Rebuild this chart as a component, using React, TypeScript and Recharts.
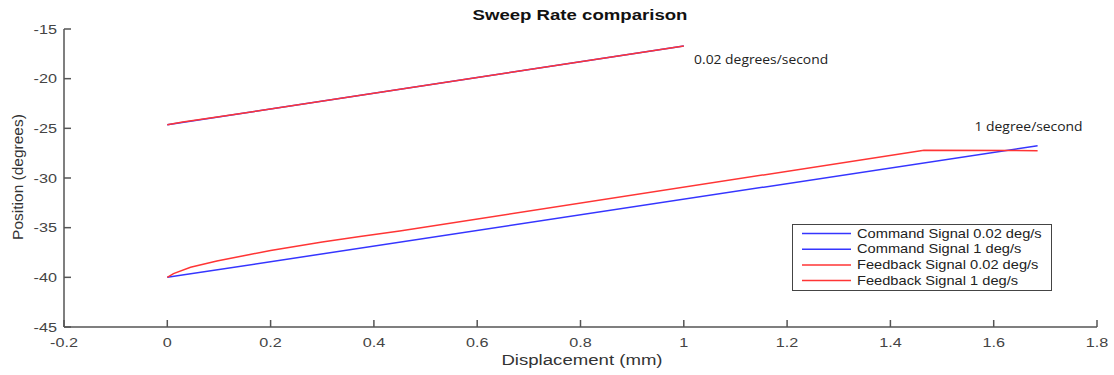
import React from 'react';
import { LineChart, Line, XAxis, YAxis, Legend, ReferenceDot } from 'recharts';

// Series data (displacement mm, position degrees)
const commandSlow = [
  { x: 0, y: -24.65 },
  { x: 1, y: -16.7 },
];
const commandFast = [
  { x: 0, y: -40 },
  { x: 1.685, y: -26.75 },
];
const feedbackSlow = [
  { x: 0, y: -24.65 },
  { x: 0.03, y: -24.36 },
  { x: 0.1, y: -23.84 },
  { x: 1, y: -16.7 },
];
const feedbackFast = [
  { x: 0, y: -40 },
  { x: 0.012, y: -39.62 },
  { x: 0.045, y: -38.98 },
  { x: 0.096, y: -38.35 },
  { x: 0.16, y: -37.7 },
  { x: 0.2, y: -37.3 },
  { x: 0.3, y: -36.45 },
  { x: 0.373, y: -35.9 },
  { x: 0.45, y: -35.34 },
  { x: 1.465, y: -27.2 },
  { x: 1.685, y: -27.25 },
];

const xTicks = [-0.2, 0, 0.2, 0.4, 0.6, 0.8, 1, 1.2, 1.4, 1.6, 1.8];
const yTicks = [-45, -40, -35, -30, -25, -20, -15];

const seriesNames = [
  'Command Signal 0.02 deg/s',
  'Command Signal 1 deg/s',
  'Feedback Signal 0.02 deg/s',
  'Feedback Signal 1 deg/s',
];
const annotations = [
  { x: 1.02, y: -18.0, text: '0.02 degrees/second', len: 134 },
  { x: 1.563, y: -24.77, text: '1 degree/second', len: 108 },
];

const TITLE = 'Sweep Rate comparison';
const XLABEL = 'Displacement (mm)';
const YLABEL = 'Position (degrees)';

const FONT = "'Liberation Sans', Arial, sans-serif";
const AXIS = '#555';
const BLUE = '#3535ff';
const RED = '#ff3535';
const SX = 1.2;

const fmt = (v: number) => String(parseFloat(Number(v).toFixed(1)));

const XTick = (props: any) => {
  const { x, y, payload } = props;
  return (
    <g>
      <line x1={x} x2={x} y1={y} y2={y - 7} stroke={AXIS} strokeWidth={1.5} />
      <text
        transform={`translate(${x},${y + 15}) scale(${SX},1)`}
        textAnchor="middle"
        dominantBaseline="central"
        fontFamily={FONT}
        fontSize={13.5}
        fill="#444"
      >
        {fmt(payload.value)}
      </text>
    </g>
  );
};

const YTick = (props: any) => {
  const { x, y, payload } = props;
  return (
    <g>
      <line x1={x} x2={x + 7} y1={y} y2={y} stroke={AXIS} strokeWidth={1.5} />
      <text
        transform={`translate(${x - 7},${y}) scale(${SX},1)`}
        textAnchor="end"
        dominantBaseline="central"
        fontFamily={FONT}
        fontSize={13.5}
        fill="#444"
      >
        {fmt(payload.value)}
      </text>
    </g>
  );
};

const LegendBox = (props: any) => {
  const payload = props.payload || [];
  return (
    <svg width={260} height={67} style={{ display: 'block' }}>
      <rect x={0.5} y={0.5} width={259} height={66} fill="#fff" stroke="#444" strokeWidth={1} />
      {payload.map((p: any, i: number) => {
        const cy = 9.5 + i * 15.7;
        return (
          <g key={i}>
            <line x1={10} x2={59} y1={cy} y2={cy} stroke={p.color} strokeWidth={1.5} />
            <text
              transform={`translate(65,${cy}) scale(${SX},1)`}
              dominantBaseline="central"
              fontFamily={FONT}
              fontSize={12.2}
              fill="#222"
            >
              {p.value}
            </text>
          </g>
        );
      })}
    </svg>
  );
};

const makeAnno = (text: string, len: number) => (props: any) => {
  const vb = props.viewBox || {};
  const x = (vb.x ?? 0) + (vb.width ?? 0) / 2;
  const y = (vb.y ?? 0) + (vb.height ?? 0) / 2;
  return (
    <text
      x={x}
      y={y}
      dominantBaseline="central"
      fontFamily="'Open Sans', 'Noto Sans', sans-serif"
      fontSize={13}
      fill="#222"
      textLength={len}
      lengthAdjust="spacingAndGlyphs"
    >
      {text}
    </text>
  );
};

export default function App() {
  return (
    <div style={{ position: 'absolute', left: 0, top: 0, width: 1114, height: 375, background: '#fff' }}>
      <LineChart
        width={1114}
        height={375}
        margin={{ top: 29, right: 17, bottom: 0, left: 0 }}
      >
        <XAxis
          type="number"
          dataKey="x"
          domain={[-0.2, 1.8]}
          ticks={xTicks}
          interval={0}
          allowDataOverflow
          height={48}
          tickSize={0}
          tickMargin={0}
          tickLine={false}
          axisLine={{ stroke: AXIS, strokeWidth: 1.5 }}
          tick={<XTick />}
        />
        <YAxis
          type="number"
          dataKey="y"
          domain={[-45, -15]}
          ticks={yTicks}
          interval={0}
          allowDataOverflow
          width={64}
          tickSize={0}
          tickMargin={0}
          tickLine={false}
          axisLine={{ stroke: AXIS, strokeWidth: 1.5 }}
          tick={<YTick />}
        />
        <Line data={commandSlow} dataKey="y" name={seriesNames[0]} type="linear" stroke={BLUE} strokeWidth={1.5} dot={false} activeDot={false} isAnimationActive={false} />
        <Line data={commandFast} dataKey="y" name={seriesNames[1]} type="linear" stroke={BLUE} strokeWidth={1.5} dot={false} activeDot={false} isAnimationActive={false} />
        <Line data={feedbackSlow} dataKey="y" name={seriesNames[2]} type="linear" stroke={RED} strokeWidth={1.5} dot={false} activeDot={false} isAnimationActive={false} />
        <Line data={feedbackFast} dataKey="y" name={seriesNames[3]} type="linear" stroke={RED} strokeWidth={1.5} dot={false} activeDot={false} isAnimationActive={false} />
        {annotations.map((a, i) => (
          <ReferenceDot
            key={i}
            x={a.x}
            y={a.y}
            r={1}
            fill="none"
            stroke="none"
            label={{ content: makeAnno(a.text, a.len) } as any}
          />
        ))}
        <Legend
          layout="vertical"
          align="center"
          verticalAlign="middle"
          content={<LegendBox />}
          wrapperStyle={{ left: 792, top: 224, width: 260, height: 67 }}
        />
      </LineChart>
      <svg
        width={1114}
        height={375}
        style={{ position: 'absolute', left: 0, top: 0, pointerEvents: 'none' }}
      >
        <text
          transform={`translate(580,15) scale(${SX},1)`}
          textAnchor="middle"
          dominantBaseline="central"
          fontFamily={FONT}
          fontWeight="bold"
          fontSize={15.5}
          fill="#111"
        >
          {TITLE}
        </text>
        <text
          transform={`translate(582,360) scale(${SX},1)`}
          textAnchor="middle"
          dominantBaseline="central"
          fontFamily={FONT}
          fontSize={15.5}
          fill="#333"
        >
          {XLABEL}
        </text>
        <text
          transform="translate(17.5,177) rotate(-90)"
          textAnchor="middle"
          dominantBaseline="central"
          fontFamily={FONT}
          fontSize={15.5}
          fill="#333"
        >
          {YLABEL}
        </text>
      </svg>
    </div>
  );
}
